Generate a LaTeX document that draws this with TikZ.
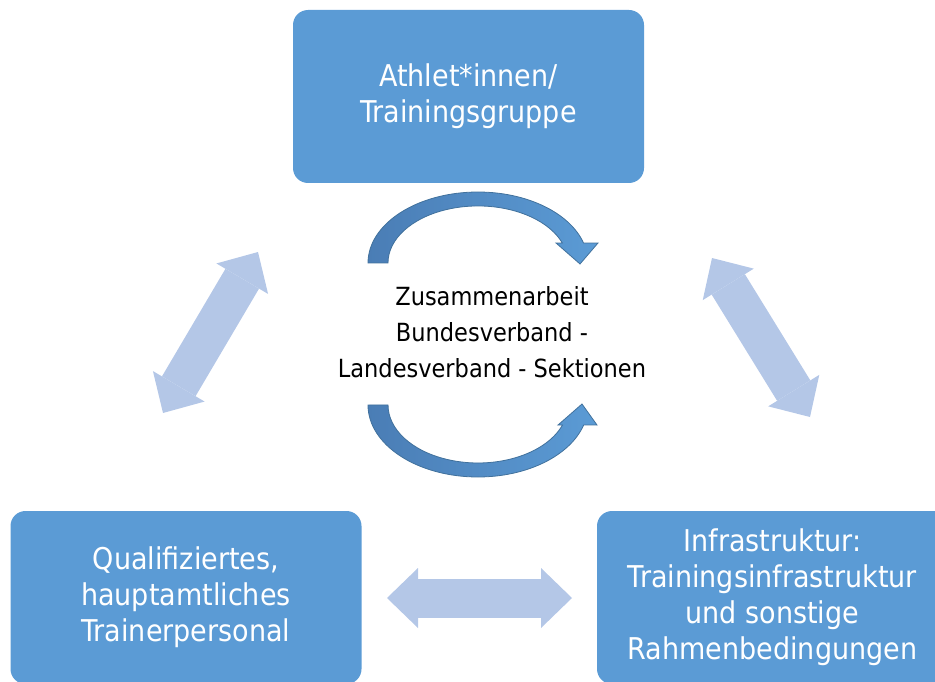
\documentclass[tikz,border=0pt]{standalone}
\usepackage{fontspec}
\setmainfont{DejaVu Sans Condensed}
\usetikzlibrary{arrows.meta}
\definecolor{boxblue}{HTML}{5B9BD5}
\definecolor{linkblue}{HTML}{B4C7E7}
\definecolor{arcdark}{HTML}{4A7DB5}
\definecolor{arcline}{HTML}{41719C}
\tikzset{
  area/.style={fill=boxblue, rounded corners=15pt, minimum width=351pt, minimum height=173pt,
    text=white, align=center, font=\fontsize{30}{36}\selectfont},
  link/.style={draw=linkblue, line width=39pt,
    {Triangle[length=31pt,width=60pt,line width=0pt]}-{Triangle[length=31pt,width=60pt,line width=0pt]}},
  turn/.style={draw=arcline, line width=0.8pt, left color=arcdark, right color=boxblue}
}
\begin{document}
\begin{tikzpicture}[x=1pt, y=-1pt]
  \useasboundingbox (0,0) rectangle (935,682);
  \clip (0,0) rectangle (935,682);
  % the three fields
  \node[area] (athletes) at (468.5,96.5) {Athlet*innen/\\Trainingsgruppe};
  \node[area] (coaches) at (186,597.5) {Qualifiziertes,\\hauptamtliches\\Trainerpersonal};
  \node[area] (infra) at (772.5,597.5) {Infrastruktur:\\Trainingsinfrastruktur\\und sonstige\\Rahmenbedingungen};
  \node[align=center, font=\fontsize{25}{36}\selectfont] (coop) at (492,332)
    {Zusammenarbeit\\Bundesverband -\\Landesverband - Sektionen};
  % links between the fields
  \coordinate (l1) at (163,413); \coordinate (l2) at (258,252);
  \coordinate (r1) at (712,258); \coordinate (r2) at (810,417);
  \coordinate (b1) at (387,598); \coordinate (b2) at (572,598);
  \draw[link] (l1) -- (l2);
  \draw[link] (r1) -- (r2);
  \draw[link] (b1) -- (b2);
  % turning arrows round the centre
  \path[turn] (368,263) arc[start angle=180, end angle=343.7, x radius=110, y radius=71]
    -- (598,243) -- (580,264) -- (556,243) -- (562.3,243)
    arc[start angle=339.5, end angle=180, x radius=90, y radius=57] -- cycle;
  \path[turn] (368,405) arc[start angle=180, end angle=16.1, x radius=110, y radius=72]
    -- (597,425) -- (582,404) -- (558,425) -- (562.5,425)
    arc[start angle=20.2, end angle=180, x radius=90, y radius=58] -- cycle;
\end{tikzpicture}
\end{document}
